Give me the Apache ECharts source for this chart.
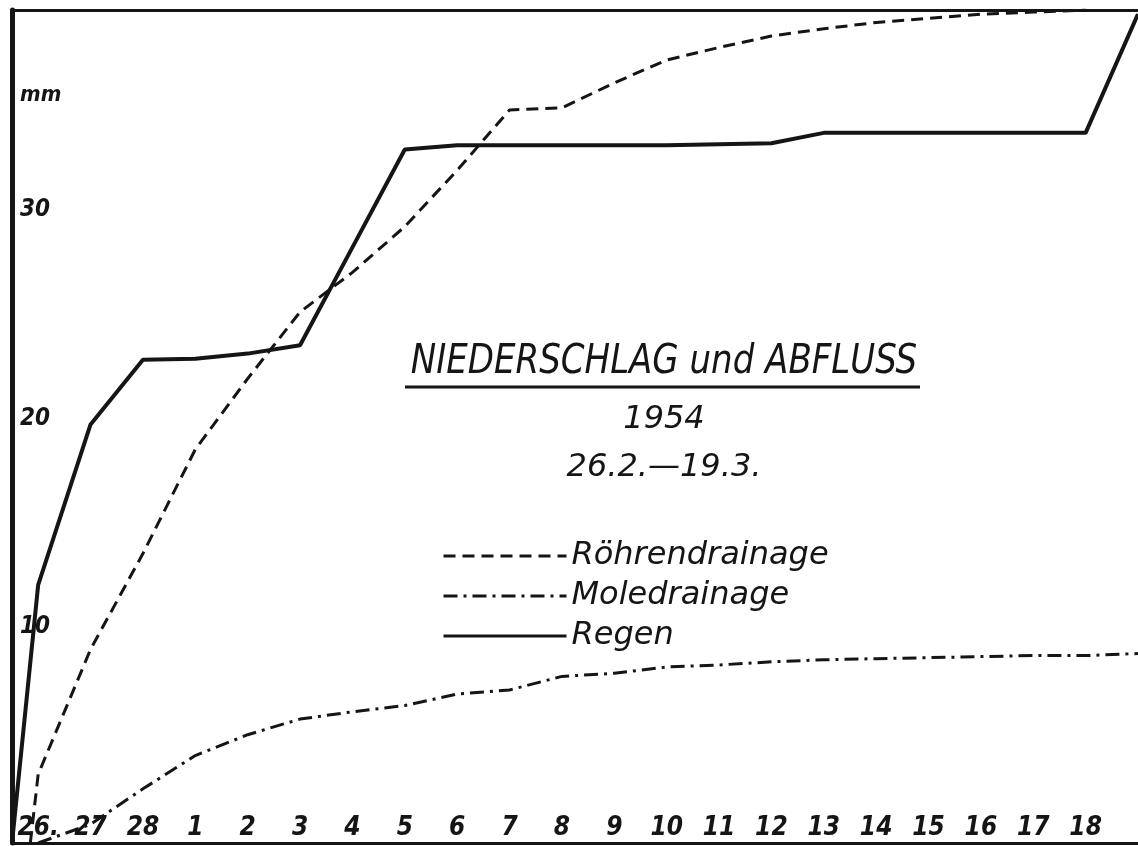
<!DOCTYPE html>
<html><head><meta charset="utf-8">
<script src="https://cdn.jsdelivr.net/npm/echarts@6/dist/echarts.min.js"></script>
<style>html,body{margin:0;padding:0;background:#fff}#chart{width:1138px;height:846px}</style>
</head><body><div id="chart"></div>
<script>
// x positions: 0 = 26.2., 2 = 28.2., 3 = 1.3., ... 21 = 19.3.
const dayPositions = [0,1,2,3,4,5,6,7,8,9,10,11,12,13,14,15,16,17,18,19,20];
const dayLabels = ['26.','27','28','1','2','3','4','5','6','7','8','9','10','11','12','13','14','15','16','17','18'];
const yTickValues = [10,20,30];

const regenDays   = [-0.5,0,1,2,3,4,5,6,7,8,9,10,11,12,13,14,15,16,17,18,19,20,21];
const regenValues = [0,12.4,20.1,23.2,23.25,23.5,23.9,28.6,33.3,33.5,33.5,33.5,33.5,33.5,33.55,33.6,34.1,34.1,34.1,34.1,34.1,34.1,39.8];

const roehrenDays   = [-0.15,0,1,2,3,4,5,6,7,8,9,10,11,12,13,14,15,16,17,18,19,20];
const roehrenValues = [0,3.3,9.3,13.9,18.9,22.3,25.5,27.4,29.6,32.3,35.2,35.3,36.5,37.6,38.2,38.75,39.1,39.4,39.6,39.8,39.9,40];

const moleDays   = [0,1,2,3,4,5,6,7,8,9,10,11,12,13,14,15,16,17,18,19,20,21];
const moleValues = [0,0.9,2.6,4.2,5.2,5.95,6.3,6.6,7.15,7.35,8.0,8.15,8.45,8.55,8.7,8.8,8.85,8.9,8.95,9.0,9.0,9.1];

const pairs = (xs, ys) => xs.map((x, i) => [x, ys[i]]);
const INK = '#151515';
const HAND = "'DejaVu Sans', sans-serif";
const HAND_C = "'DejaVu Sans Condensed', 'DejaVu Sans', sans-serif";
const DASH = [12, 7];
const DASH_DOT = [14, 6, 3, 6];
const NOSYM = {color: 'rgba(0,0,0,0)', borderWidth: 0, opacity: 0};

const chart = echarts.init(document.getElementById('chart'), null, {renderer: 'canvas'});
chart.setOption({
  backgroundColor: '#ffffff',
  animation: false,
  grid: {left: 12, right: 0, top: 10, bottom: 3},
  xAxis: [{
    type: 'value', min: -0.5, max: 21, position: 'bottom',
    axisLine: {show: true, onZero: false, lineStyle: {color: INK, width: 3}},
    axisTick: {show: false}, splitLine: {show: false},
    axisLabel: {
      inside: true, customValues: dayPositions,
      formatter: v => dayLabels[dayPositions.indexOf(v)],
      color: INK, fontSize: 26, fontWeight: 'bold', fontStyle: 'italic', fontFamily: HAND_C,
      margin: 2, verticalAlign: 'bottom'
    }
  }, {
    type: 'value', min: -0.5, max: 21, position: 'top',
    axisLine: {show: true, onZero: false, lineStyle: {color: INK, width: 3}},
    axisTick: {show: false}, axisLabel: {show: false}, splitLine: {show: false}
  }],
  yAxis: {
    type: 'value', min: 0, max: 40,
    axisLine: {show: true, onZero: false, lineStyle: {color: INK, width: 5}},
    axisTick: {show: false}, splitLine: {show: false},
    axisLabel: {
      inside: true, customValues: yTickValues,
      color: INK, fontSize: 24, fontWeight: 'bold', fontStyle: 'italic', fontFamily: HAND_C,
      margin: 8, verticalAlign: 'bottom', lineHeight: 16
    },
    name: 'mm', nameLocation: 'end', nameGap: -85,
    nameTextStyle: {color: INK, fontSize: 22, fontWeight: 'bold', fontStyle: 'italic', fontFamily: HAND_C,
      align: 'left', verticalAlign: 'middle', padding: [0, 0, 0, 8]}
  },
  legend: {
    orient: 'vertical', left: 437, top: 535, itemWidth: 123, itemHeight: 16, itemGap: 8,
    selectedMode: false,
    textStyle: {fontSize: 32, lineHeight: 32, fontStyle: 'italic', fontFamily: HAND, color: INK},
    data: [
      {name: 'Röhrendrainage', itemStyle: NOSYM, lineStyle: {color: INK, width: 3, type: DASH}},
      {name: 'Moledrainage', itemStyle: NOSYM, lineStyle: {color: INK, width: 3, type: DASH_DOT}},
      {name: 'Regen', itemStyle: NOSYM, lineStyle: {color: INK, width: 3, type: 'solid'}}
    ]
  },
  graphic: [
    {type: 'text', x: 664, y: 362, scaleX: 0.83,
     style: {text: 'NIEDERSCHLAG und ABFLUSS', fontSize: 41, fontStyle: 'italic', fontFamily: HAND,
             fill: INK, align: 'center', verticalAlign: 'middle'}},
    {type: 'line', shape: {x1: 405, y1: 387, x2: 920, y2: 387}, style: {stroke: INK, lineWidth: 3}},
    {type: 'text', x: 664, y: 420,
     style: {text: '1954', fontSize: 32, fontStyle: 'italic', fontFamily: HAND,
             fill: INK, align: 'center', verticalAlign: 'middle'}},
    {type: 'text', x: 664, y: 468,
     style: {text: '26.2.—19.3.', fontSize: 32, fontStyle: 'italic', fontFamily: HAND,
             fill: INK, align: 'center', verticalAlign: 'middle'}}
  ],
  series: [
    {name: 'Röhrendrainage', type: 'line', xAxisIndex: 0, data: pairs(roehrenDays, roehrenValues),
     symbol: 'none', smooth: false,
     lineStyle: {color: INK, width: 3, type: DASH}, itemStyle: {color: INK}},
    {name: 'Moledrainage', type: 'line', xAxisIndex: 0, data: pairs(moleDays, moleValues),
     symbol: 'none', smooth: false,
     lineStyle: {color: INK, width: 3, type: DASH_DOT}, itemStyle: {color: INK}},
    {name: 'Regen', type: 'line', xAxisIndex: 0, data: pairs(regenDays, regenValues),
     symbol: 'none', lineStyle: {color: INK, width: 4, type: 'solid'}, itemStyle: {color: INK}}
  ]
});
</script></body></html>
